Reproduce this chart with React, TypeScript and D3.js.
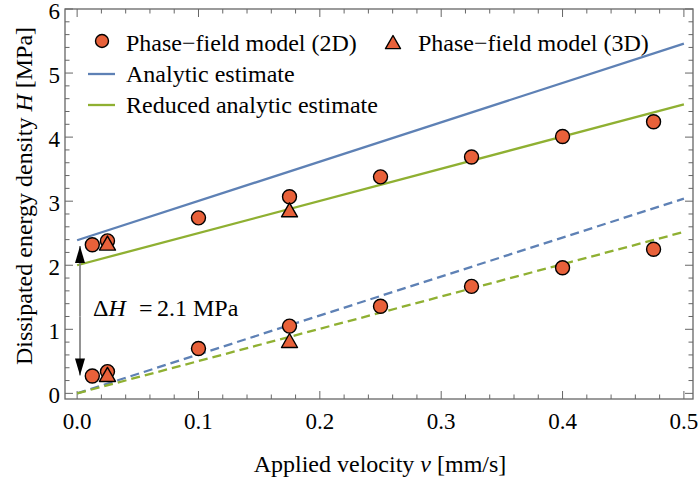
import React from "react";
import * as d3 from "d3";

// velocities (mm/s)
const vel2D = [0.0125, 0.025, 0.1, 0.175, 0.25, 0.325, 0.4, 0.475];
const upper2D = [2.32, 2.38, 2.74, 3.07, 3.38, 3.69, 4.01, 4.24];
const lower2D = [0.27, 0.34, 0.7, 1.05, 1.36, 1.67, 1.96, 2.25];
const vel3D = [0.025, 0.175];
const upper3D = [2.33, 2.85];
const lower3D = [0.28, 0.81];

// estimate lines: H at v = 0 and v = 0.5
const lineV = [0, 0.5];
const analytic = [2.39, 5.46];
const reduced = [2.0, 4.51];
const analyticLow = [0.0, 3.04];
const reducedLow = [0.0, 2.52];

const xTicks = [0, 0.1, 0.2, 0.3, 0.4, 0.5];
const yTicks = [0, 1, 2, 3, 4, 5, 6];

const BLUE = "#5E81B5";
const GREEN = "#8FB032";
const ORANGE = "#E8613A";
const FRAME = "#666";
const FONT = "'Liberation Serif', 'Times New Roman', serif";

const W = 699;
const H = 482;
const left = 65;
const right = 693;
const top = 9;
const bottom = 399;

const App = () => {
  const x = d3.scaleLinear().domain([-0.01, 0.5075]).range([left, right]);
  const y = d3.scaleLinear().domain([-0.088, 6]).range([bottom, top]);

  const line = d3
    .line<number>()
    .x((_, i) => x(lineV[i]))
    .y((d) => y(d));

  const xMinor = d3.range(0, 0.501, 0.02);
  const yMinor = d3.range(0, 6.01, 0.2);

  const tri = (cx: number, cy: number, s = 8) =>
    `M${cx},${cy - s} L${cx + s},${cy + s * 0.75} L${cx - s},${cy + s * 0.75} Z`;

  const circles: [number, number][] = [];
  vel2D.forEach((v, i) => {
    circles.push([v, upper2D[i]]);
    circles.push([v, lower2D[i]]);
  });
  const triangles: [number, number][] = [];
  vel3D.forEach((v, i) => {
    triangles.push([v, upper3D[i]]);
    triangles.push([v, lower3D[i]]);
  });

  const arrowX = 80;

  return (
    <svg
      width={W}
      height={H}
      style={{ position: "absolute", left: 0, top: 0, background: "#fff" }}
      fontFamily={FONT}
    >
      <defs>
        <marker
          id="ah"
          viewBox="0 0 10 10"
          refX="10"
          refY="5"
          markerWidth="17"
          markerHeight="10"
          markerUnits="userSpaceOnUse"
          preserveAspectRatio="none"
          orient="auto-start-reverse"
        >
          <path d="M0,0 L10,5 L0,10 Z" fill="#000" />
        </marker>
        <clipPath id="plot">
          <rect x={left} y={top} width={right - left} height={bottom - top} />
        </clipPath>
      </defs>

      {/* frame ticks */}
      <g stroke={FRAME} strokeWidth={1}>
        {xMinor.map((v, i) => {
          const l = i % 5 === 0 ? 8 : 4.5;
          return (
            <g key={"xm" + i}>
              <line x1={x(v)} x2={x(v)} y1={bottom} y2={bottom - l} />
              <line x1={x(v)} x2={x(v)} y1={top} y2={top + l} />
            </g>
          );
        })}
        {yMinor.map((v, i) => {
          const l = i % 5 === 0 ? 8 : 4.5;
          return (
            <g key={"ym" + i}>
              <line x1={left} x2={left + l} y1={y(v)} y2={y(v)} />
              <line x1={right} x2={right - l} y1={y(v)} y2={y(v)} />
            </g>
          );
        })}
      </g>

      {/* estimate lines */}
      <g clipPath="url(#plot)" fill="none" strokeWidth={2.3}>
        <path d={line(analytic) || ""} stroke={BLUE} />
        <path d={line(reduced) || ""} stroke={GREEN} />
        <path d={line(analyticLow) || ""} stroke={BLUE} strokeDasharray="9,5" />
        <path d={line(reducedLow) || ""} stroke={GREEN} strokeDasharray="9,5" />
      </g>

      {/* delta H arrow */}
      <line x1={arrowX} x2={arrowX} y1={y(1.2)} y2={y(2.3)} stroke="#888" strokeWidth={1.8} markerEnd="url(#ah)" />
      <line x1={arrowX} x2={arrowX} y1={y(1.2)} y2={y(0.28)} stroke="#888" strokeWidth={1.8} markerEnd="url(#ah)" />
      <text y={316} fontSize={24} fill="#000">
        <tspan x={93}>Δ</tspan>
        <tspan fontStyle="italic">H</tspan>
        <tspan x={139}>=</tspan>
        <tspan x={157}>2.1 MPa</tspan>
      </text>

      {/* markers */}
      <g stroke="#000" strokeWidth={1.4} fill={ORANGE}>
        {circles.map((d, i) => (
          <circle key={"c" + i} cx={x(d[0])} cy={y(d[1])} r={7} />
        ))}
        {triangles.map((d, i) => (
          <path key={"t" + i} d={tri(x(d[0]), y(d[1]))} strokeLinejoin="round" />
        ))}
      </g>

      {/* frame */}
      <rect x={left} y={top} width={right - left} height={bottom - top} fill="none" stroke={FRAME} strokeWidth={1.3} />

      {/* tick labels */}
      <g fontSize={23} fill="#000">
        {xTicks.map((v) => (
          <text key={"xt" + v} x={x(v)} y={429} textAnchor="middle">
            {v.toFixed(1)}
          </text>
        ))}
        {yTicks.map((v) => (
          <text key={"yt" + v} x={60} y={y(v) + 10} textAnchor="end">
            {v}
          </text>
        ))}
      </g>

      {/* axis titles */}
      <text x={380} y={472} fontSize={24} textAnchor="middle">
        Applied velocity <tspan fontStyle="italic">v</tspan> [mm/s]
      </text>
      <text transform={`translate(32,196) rotate(-90)`} fontSize={24} textAnchor="middle">
        Dissipated energy density <tspan fontStyle="italic">H</tspan> [MPa]
      </text>

      {/* legend */}
      <g fontSize={24} fill="#000">
        <circle cx={102} cy={41} r={6.5} fill={ORANGE} stroke="#000" strokeWidth={1.4} />
        <text x={126} y={51}>Phase−field model (2D)</text>
        <path d={tri(393, 43, 7.5)} fill={ORANGE} stroke="#000" strokeWidth={1.4} strokeLinejoin="round" />
        <text x={418} y={51}>Phase−field model (3D)</text>
        <line x1={88} x2={115} y1={74} y2={74} stroke={BLUE} strokeWidth={2.3} />
        <text x={126} y={82}>Analytic estimate</text>
        <line x1={88} x2={115} y1={105} y2={105} stroke={GREEN} strokeWidth={2.3} />
        <text x={126} y={113}>Reduced analytic estimate</text>
      </g>
    </svg>
  );
};

export default App;
